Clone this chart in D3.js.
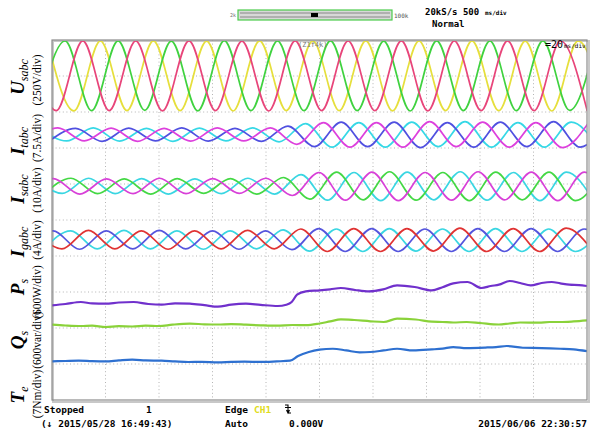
<!DOCTYPE html>
<html>
<head>
<meta charset="utf-8">
<script src="https://cdn.jsdelivr.net/npm/d3@7"></script>
<style>
  body { margin: 0; background: #fff; }
  svg { display: block; }
</style>
</head>
<body>
<svg width="600" height="431"></svg>
<script>
const svg = d3.select('svg');

// time axis: 10 div x 20ms
const timeTicks = [0, 20, 40, 60, 80, 100, 120, 140, 160, 180, 200];
const divTicks = [1, 2, 3, 4, 5, 6, 7, 8, 9];

// extremes [ms, value]
const uGreen = [[-5.0,-240],[4.9,243],[14.8,-241],[24.7,244],[34.7,-239],[44.6,242],[54.5,-242],[64.4,245],[74.4,-240],[84.3,243],[94.2,-241],[104.1,244],[114.1,-240],[124.0,242],[133.9,-243],[143.8,244],[153.8,-240],[163.7,243],[173.6,-241],[183.5,244],[193.5,-239],[203.4,242]];
const uPink = [[-8.3,242],[1.6,-241],[11.5,244],[21.4,-240],[31.3,243],[41.3,-242],[51.2,244],[61.1,-240],[71.0,242],[81.0,-243],[90.9,244],[100.8,-240],[110.7,243],[120.7,-241],[130.6,244],[140.5,-242],[150.4,243],[160.4,-240],[170.3,244],[180.2,-241],[190.1,243],[200.1,-244]];
const uYellow = [[-1.7,241],[8.2,-242],[18.1,243],[28.0,-240],[37.9,244],[47.9,-241],[57.8,242],[67.7,-243],[77.6,244],[87.6,-240],[97.5,243],[107.4,-241],[117.3,244],[127.3,-242],[137.2,243],[147.1,-240],[157.0,244],[167.0,-241],[176.9,242],[186.8,-243],[196.7,244],[206.7,-240]];

const itMag = [[-7.7,-1.3],[2.2,1.4],[12.1,-1.3],[22.1,1.35],[32.0,-1.4],[41.9,1.3],[51.8,-1.35],[61.8,1.4],[71.7,-1.3],[81.6,1.4],[91.5,-2.0],[101.5,2.5],[111.4,-2.6],[121.3,2.5],[131.2,-2.6],[141.2,2.7],[151.1,-2.5],[161.0,2.6],[170.9,-2.6],[180.9,2.5],[190.8,-2.7],[200.7,2.6]];
const itBlue = [[-1.1,-1.35],[8.8,1.3],[18.7,-1.4],[28.7,1.35],[38.6,-1.3],[48.5,1.4],[58.4,-1.35],[68.4,1.3],[78.3,-1.4],[88.2,1.8],[98.1,-2.5],[108.1,2.6],[118.0,-2.5],[127.9,2.6],[137.8,-2.7],[147.8,2.5],[157.7,-2.6],[167.6,2.6],[177.5,-2.5],[187.5,2.7],[197.4,-2.6],[207.3,2.5]];
const itCyan = [[-4.5,1.35],[5.5,-1.3],[15.4,1.4],[25.3,-1.35],[35.3,1.3],[45.2,-1.4],[55.1,1.35],[65.0,-1.3],[75.0,1.4],[84.9,-1.5],[94.8,2.3],[104.7,-2.6],[114.7,2.5],[124.6,-2.6],[134.5,2.6],[144.4,-2.5],[154.4,2.7],[164.3,-2.6],[174.2,2.5],[184.1,-2.6],[194.1,2.6],[204.0,-2.5]];

const isMag = [[-9.4,-2.1],[0.5,2.1],[10.4,-2.2],[20.4,2.0],[30.3,-2.1],[40.2,2.2],[50.1,-2.1],[60.1,2.1],[70.0,-2.0],[79.9,2.2],[89.8,-2.6],[99.8,3.8],[109.7,-3.9],[119.6,3.9],[129.5,-4.0],[139.5,3.8],[149.4,-3.9],[159.3,4.0],[169.2,-3.8],[179.2,3.9],[189.1,-4.0],[199.0,3.9],[208.9,-3.8]];
const isGreen = [[-2.8,-2.1],[7.1,2.2],[17.0,-2.1],[27.0,2.0],[36.9,-2.2],[46.8,2.1],[56.7,-2.0],[66.7,2.1],[76.6,-2.2],[86.5,2.4],[96.4,-3.6],[106.4,3.9],[116.3,-3.8],[126.2,4.0],[136.1,-3.9],[146.1,3.8],[156.0,-4.0],[165.9,3.9],[175.8,-3.8],[185.8,3.9],[195.7,-4.0],[205.6,3.8]];
const isCyan = [[-6.2,2.1],[3.8,-2.0],[13.7,2.2],[23.6,-2.1],[33.5,2.1],[43.5,-2.2],[53.4,2.0],[63.3,-2.1],[73.2,2.2],[83.2,-2.2],[93.1,3.2],[103.0,-3.9],[112.9,3.8],[122.9,-4.0],[132.8,3.9],[142.7,-3.8],[152.6,4.0],[162.6,-3.9],[172.5,3.8],[182.4,-4.0],[192.3,3.9],[202.3,-3.8]];

const igBlue = [[-9.5,-1.0],[0.4,1.0],[10.3,-1.05],[20.3,1.0],[30.2,-1.0],[40.1,1.05],[50.0,-1.0],[60.0,1.0],[69.9,-1.05],[79.8,1.0],[89.7,-1.1],[99.7,1.25],[109.6,-1.3],[119.5,1.25],[129.4,-1.3],[139.4,1.2],[149.3,-1.3],[159.2,1.25],[169.1,-1.3],[179.1,1.25],[189.0,-1.3],[198.9,1.2],[208.8,-1.3]];
const igCyan = [[-2.9,-1.0],[7.0,1.0],[16.9,-1.0],[26.9,1.05],[36.8,-1.0],[46.7,1.0],[56.6,-1.05],[66.6,1.0],[76.5,-1.0],[86.4,1.1],[96.3,-1.25],[106.3,1.2],[116.2,-1.3],[126.1,1.25],[136.0,-1.25],[146.0,1.2],[155.9,-1.3],[165.8,1.25],[175.7,-1.3],[185.7,1.2],[195.6,-1.3],[205.5,1.25]];
const igRed = [[-6.3,1.0],[3.7,-1.0],[13.6,1.05],[23.5,-1.0],[33.4,1.0],[43.4,-1.05],[53.3,1.0],[63.2,-1.0],[73.1,1.05],[83.1,-1.0],[93.0,1.2],[102.9,-1.3],[112.8,1.25],[122.8,-1.3],[132.7,1.25],[142.6,-1.25],[152.5,1.3],[162.5,-1.3],[172.4,1.25],[182.3,-1.3],[192.2,1.3],[202.2,-1.25]];

// slow signals [ms, value]
const psData = [[0,1577],[5,1600],[10.8,1633],[15,1610],[20,1605],[25,1625],[30.5,1633],[36,1600],[41,1588],[46,1612],[51.5,1605],[57,1580],[62,1555],[67,1590],[72.5,1605],[78,1585],[84.4,1567],[87.6,1588],[89.6,1633],[91.6,1755],[94.9,1810],[100.1,1827],[104,1845],[108,1867],[113.3,1833],[118.5,1810],[123.8,1843],[129,1910],[135.6,1883],[142,1827],[146,1880],[150,1943],[155.3,1967],[160.6,1867],[164,1900],[167.1,1922],[171.1,1983],[175,1950],[179,1910],[183,1950],[186.8,1967],[190,1945],[193.4,1922],[197,1915],[200,1900]];
const qsData = [[0,1255],[5,1242],[10.8,1233],[15,1240],[20,1217],[25,1230],[30,1225],[35,1240],[40,1233],[45,1255],[51.5,1272],[57,1262],[62,1258],[67,1265],[72.5,1255],[78,1245],[84,1238],[90,1250],[95,1247],[100,1275],[104,1310],[108,1343],[113,1333],[119,1312],[124,1300],[129,1355],[136,1342],[142,1305],[146,1300],[150,1292],[155,1300],[160,1283],[167,1258],[171,1275],[175,1292],[182,1288],[186,1300],[190,1300],[195,1310],[200,1327]];
const teData = [[0,7.51],[5,7.58],[10,7.64],[15,7.55],[20,7.51],[25,7.7],[30,7.84],[35,7.7],[41,7.64],[46,7.5],[51,7.39],[56,7.4],[62,7.31],[67,7.4],[72,7.45],[78,7.4],[84,7.51],[89,7.64],[92,8.56],[96,9.33],[100,9.78],[105,9.97],[110,9.64],[115,9.26],[119,9.33],[124,9.64],[129,9.97],[135,9.64],[142,9.84],[146,10.0],[150,10.3],[155,10.1],[162,10.2],[166,10.3],[170,10.5],[176,10.16],[183,10.1],[190,9.97],[195,9.84],[200,9.5]];

// channel settings: zero position (div from top) and units per div
const channels = [
  {pos: 1.0, vpd: 250, traces: [[uYellow, '#e6df3c'], [uGreen, '#3fd23f'], [uPink, '#e8457a']]},
  {pos: 2.63, vpd: 7.5, traces: [[itCyan, '#36d8e6'], [itBlue, '#5050e0'], [itMag, '#dd40dd']]},
  {pos: 4.06, vpd: 10, traces: [[isCyan, '#3ad6e2'], [isGreen, '#44d844'], [isMag, '#d840d8']]},
  {pos: 5.55, vpd: 4, traces: [[igCyan, '#3ad6e2'], [igBlue, '#5555dd'], [igRed, '#e03333']]},
  {pos: 10, vpd: 600, traces: [[psData, '#7030cc']]},
  {pos: 10, vpd: 600, traces: [[qsData, '#8ad23a']]},
  {pos: 10, vpd: 7, traces: [[teData, '#2e70d0']]}
];

const labels = [
  {main: 'U', sub: 'sabc', unit: '(250V/div)', y: 77, uy: 80},
  {main: 'I', sub: 'tabc', unit: '(7.5A/div)', y: 141, uy: 138},
  {main: 'I', sub: 'sabc', unit: '(10A/div)', y: 189, uy: 190},
  {main: 'I', sub: 'gabc', unit: '(4A/div)', y: 242, uy: 240},
  {main: 'P', sub: 's', unit: '(600W/div)', y: 287, uy: 292},
  {main: 'Q', sub: 's', unit: '(600var/div)', y: 340, uy: 340},
  {main: 'T', sub: 'e', unit: '(7Nm/div)', y: 395, uy: 394}
];

const pL = 52, pR = 587, pT = 40, pB = 400;
const x = d3.scaleLinear().domain([0, 200]).range([pL, pR]);
const gy = d3.scaleLinear().domain([0, 10]).range([pT, pB]);

svg.append('rect').attr('width', 600).attr('height', 431).attr('fill', '#fff');

// header
const head = svg.append('g').style('font-family', '"DejaVu Sans Mono", monospace');
head.append('rect').attr('x', 238).attr('y', 10).attr('width', 154).attr('height', 10)
  .attr('fill', '#d8d8d8').attr('stroke', '#4ccc4c').attr('stroke-width', 1.2);
head.append('line').attr('x1', 240).attr('x2', 390).attr('y1', 13).attr('y2', 13).attr('stroke', '#888');
head.append('line').attr('x1', 240).attr('x2', 390).attr('y1', 17).attr('y2', 17).attr('stroke', '#888');
head.append('rect').attr('x', 311).attr('y', 13).attr('width', 7).attr('height', 4).attr('fill', '#000');
head.append('text').attr('x', 236).attr('y', 17).attr('text-anchor', 'end').attr('font-size', 5).attr('fill', '#666').text('2k');
head.append('text').attr('x', 394).attr('y', 18).attr('font-size', 6).attr('fill', '#555').text('100k');
head.append('text').attr('x', 425).attr('y', 15).attr('font-size', 9).attr('font-weight', 'bold').text('20kS/s 500');
head.append('text').attr('x', 485).attr('y', 15).attr('font-size', 6).attr('font-weight', 'bold').text('ms/div');
head.append('text').attr('x', 432).attr('y', 27).attr('font-size', 9).attr('font-weight', 'bold').text('Normal');

// plot frame shadow + grid
svg.append('rect').attr('x', pL + 1).attr('y', pT + 1).attr('width', pR - pL + 1).attr('height', pB - pT + 1)
  .attr('fill', 'none').attr('stroke', '#c8c8c8').attr('stroke-width', 2);

const grid = svg.append('g').attr('stroke', '#b4b4b4').attr('stroke-dasharray', '1,2.6').attr('stroke-width', 1);
grid.selectAll('.vx').data(timeTicks.slice(1, -1)).enter().append('line')
  .attr('x1', d => x(d)).attr('x2', d => x(d)).attr('y1', pT).attr('y2', pB);
grid.selectAll('.hy').data(divTicks).enter().append('line')
  .attr('x1', pL).attr('x2', pR).attr('y1', d => gy(d)).attr('y2', d => gy(d));

svg.append('clipPath').attr('id', 'plot').append('rect')
  .attr('x', pL).attr('y', pT + 1).attr('width', pR - pL).attr('height', pB - pT - 1);

const traces = svg.append('g').attr('clip-path', 'url(#plot)');
channels.forEach(ch => {
  const y = d3.scaleLinear().domain([ch.vpd * ch.pos, ch.vpd * (ch.pos - 10)]).range([pT, pB]);
  const line = d3.line().x(d => x(d[0])).y(d => y(d[1])).curve(d3.curveMonotoneX);
  ch.traces.forEach(([data, color]) => {
    traces.append('path')
      .attr('d', line(data))
      .attr('fill', 'none')
      .attr('stroke', color)
      .attr('stroke-width', ch.pos === 10 ? 2.2 : 1.7)
      .attr('stroke-linejoin', 'round');
  });
});

svg.append('rect').attr('x', pL).attr('y', pT).attr('width', pR - pL).attr('height', pB - pT)
  .attr('fill', 'none').attr('stroke', '#8c8c8c').attr('stroke-width', 1.2);

// zoom info inside the frame
svg.append('text').attr('x', 298).attr('y', 47).attr('font-size', 7).attr('fill', '#777')
  .style('font-family', '"DejaVu Sans Mono", monospace').text('(Z1f4k)');
svg.append('text').attr('x', 545).attr('y', 48).attr('font-size', 10)
  .style('font-family', '"DejaVu Sans Mono", monospace').text('=20');
svg.append('text').attr('x', 564).attr('y', 48).attr('font-size', 6)
  .style('font-family', '"DejaVu Sans Mono", monospace').text('ms/div');

// channel labels, rotated
const lab = svg.append('g').style('font-family', '"Liberation Serif", "Times New Roman", serif');
labels.forEach(l => {
  const t = lab.append('text')
    .attr('transform', `translate(24,${l.y}) rotate(-90)`)
    .attr('text-anchor', 'middle');
  t.append('tspan').attr('font-size', 19).attr('font-weight', 'bold').attr('font-style', 'italic').text(l.main);
  t.append('tspan').attr('font-size', 12).attr('font-style', 'italic').attr('dy', 4).text(l.sub);
  lab.append('text')
    .attr('transform', `translate(41,${l.uy}) rotate(-90)`)
    .attr('text-anchor', 'middle').attr('font-size', 11.5)
    .text(l.unit);
});

// status lines
const foot = svg.append('g').style('font-family', '"DejaVu Sans Mono", monospace')
  .attr('font-size', 9.5).attr('font-weight', 'bold');
foot.append('text').attr('x', 44).attr('y', 413).text('Stopped');
foot.append('text').attr('x', 146).attr('y', 413).text('1');
foot.append('text').attr('x', 225).attr('y', 413).text('Edge');
foot.append('text').attr('x', 254).attr('y', 413).attr('fill', '#e0dc20').text('CH1');
// falling edge mark
svg.append('path').attr('d', 'M285,405 h3 v8 h3 M286.5,410 l1.5,3 l1.5,-3 M285,407.5 h6')
  .attr('fill', 'none').attr('stroke', '#000').attr('stroke-width', 1.1);
foot.append('text').attr('x', 41).attr('y', 427).text('(↓ 2015/05/28 16:49:43)');
foot.append('text').attr('x', 225).attr('y', 427).text('Auto');
foot.append('text').attr('x', 289).attr('y', 427).text('0.000V');
foot.append('text').attr('x', 587).attr('y', 427).attr('text-anchor', 'end').text('2015/06/06 22:30:57');
</script>
</body>
</html>
